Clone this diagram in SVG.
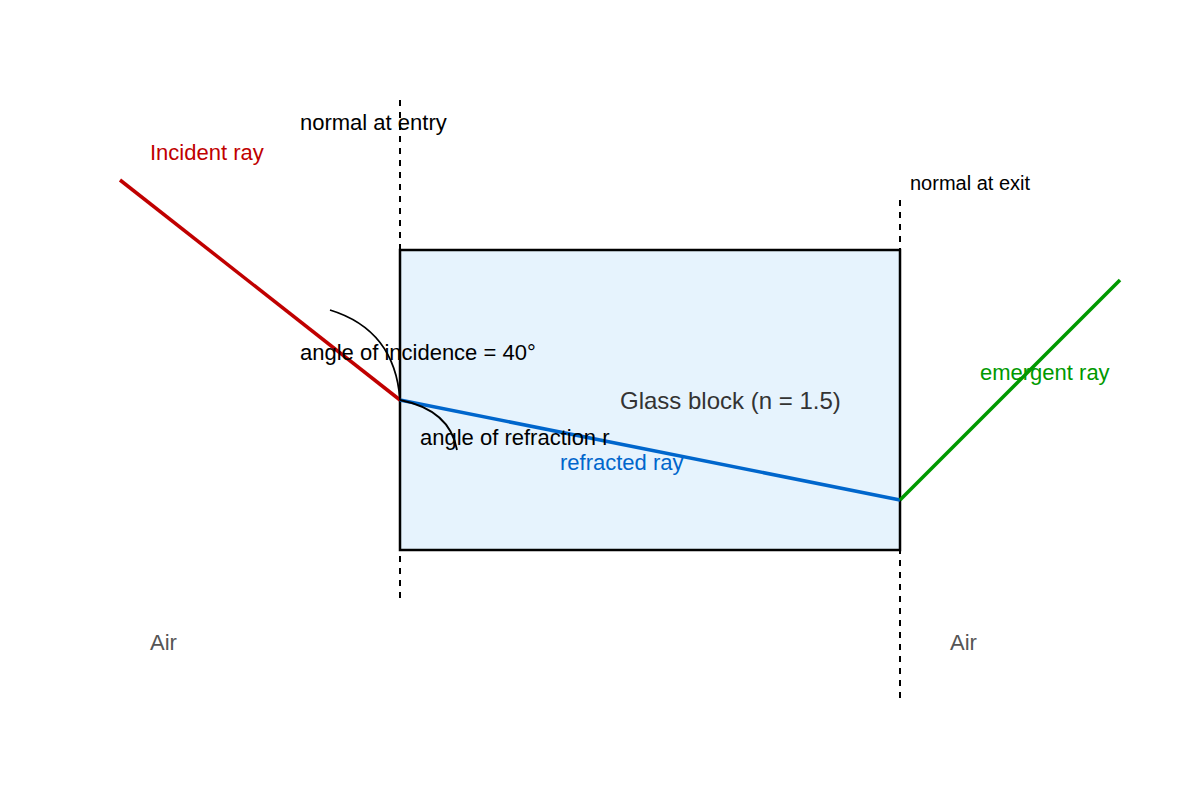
<svg xmlns="http://www.w3.org/2000/svg" width="1200" height="800" viewBox="0 0 1200 800">
<style>
text{font-family:"Liberation Sans",Arial,sans-serif;font-size:22px}
.n{stroke:#000;stroke-width:2;stroke-dasharray:6,6;fill:none}
.arc{stroke:#000;stroke-width:1.8;fill:none}
</style>
<rect width="1200" height="800" fill="#fff"/>
<g id="glass"><rect x="400" y="250" width="500" height="300" fill="#e6f3fd" stroke="#000" stroke-width="2.5"/>
<text x="620" y="409" fill="#333" font-size="24" style="font-size:24px">Glass block (n = 1.5)</text></g>
<g id="connectors">
<line class="n" x1="400" y1="100" x2="400" y2="600"/>
<line class="n" x1="900" y1="200" x2="900" y2="700"/>
<line x1="120" y1="180" x2="400" y2="400" stroke="#c00000" stroke-width="3.5"/>
<line x1="400" y1="400" x2="900" y2="500" stroke="#0066cc" stroke-width="3.5"/>
<line x1="900" y1="500" x2="1120" y2="280" stroke="#009900" stroke-width="3.5"/>
<path class="arc" d="M330 310 Q395 330 400 400"/>
<path class="arc" d="M400 400 Q450 410 457 450"/>
</g>
<g id="labels">
<text x="300" y="130" fill="#000">normal at entry</text>
<text x="910" y="190" fill="#000" style="font-size:20px">normal at exit</text>
<text x="150" y="160" fill="#c00000">Incident ray</text>
<text x="980" y="380" fill="#009900">emergent ray</text>
<text x="300" y="360" fill="#000">angle of incidence = 40°</text>
<text x="420" y="445" fill="#000">angle of refraction r</text>
<text x="560" y="470" fill="#0066cc">refracted ray</text>
<text x="150" y="650" fill="#555">Air</text>
<text x="950" y="650" fill="#555">Air</text>
</g>
</svg>
